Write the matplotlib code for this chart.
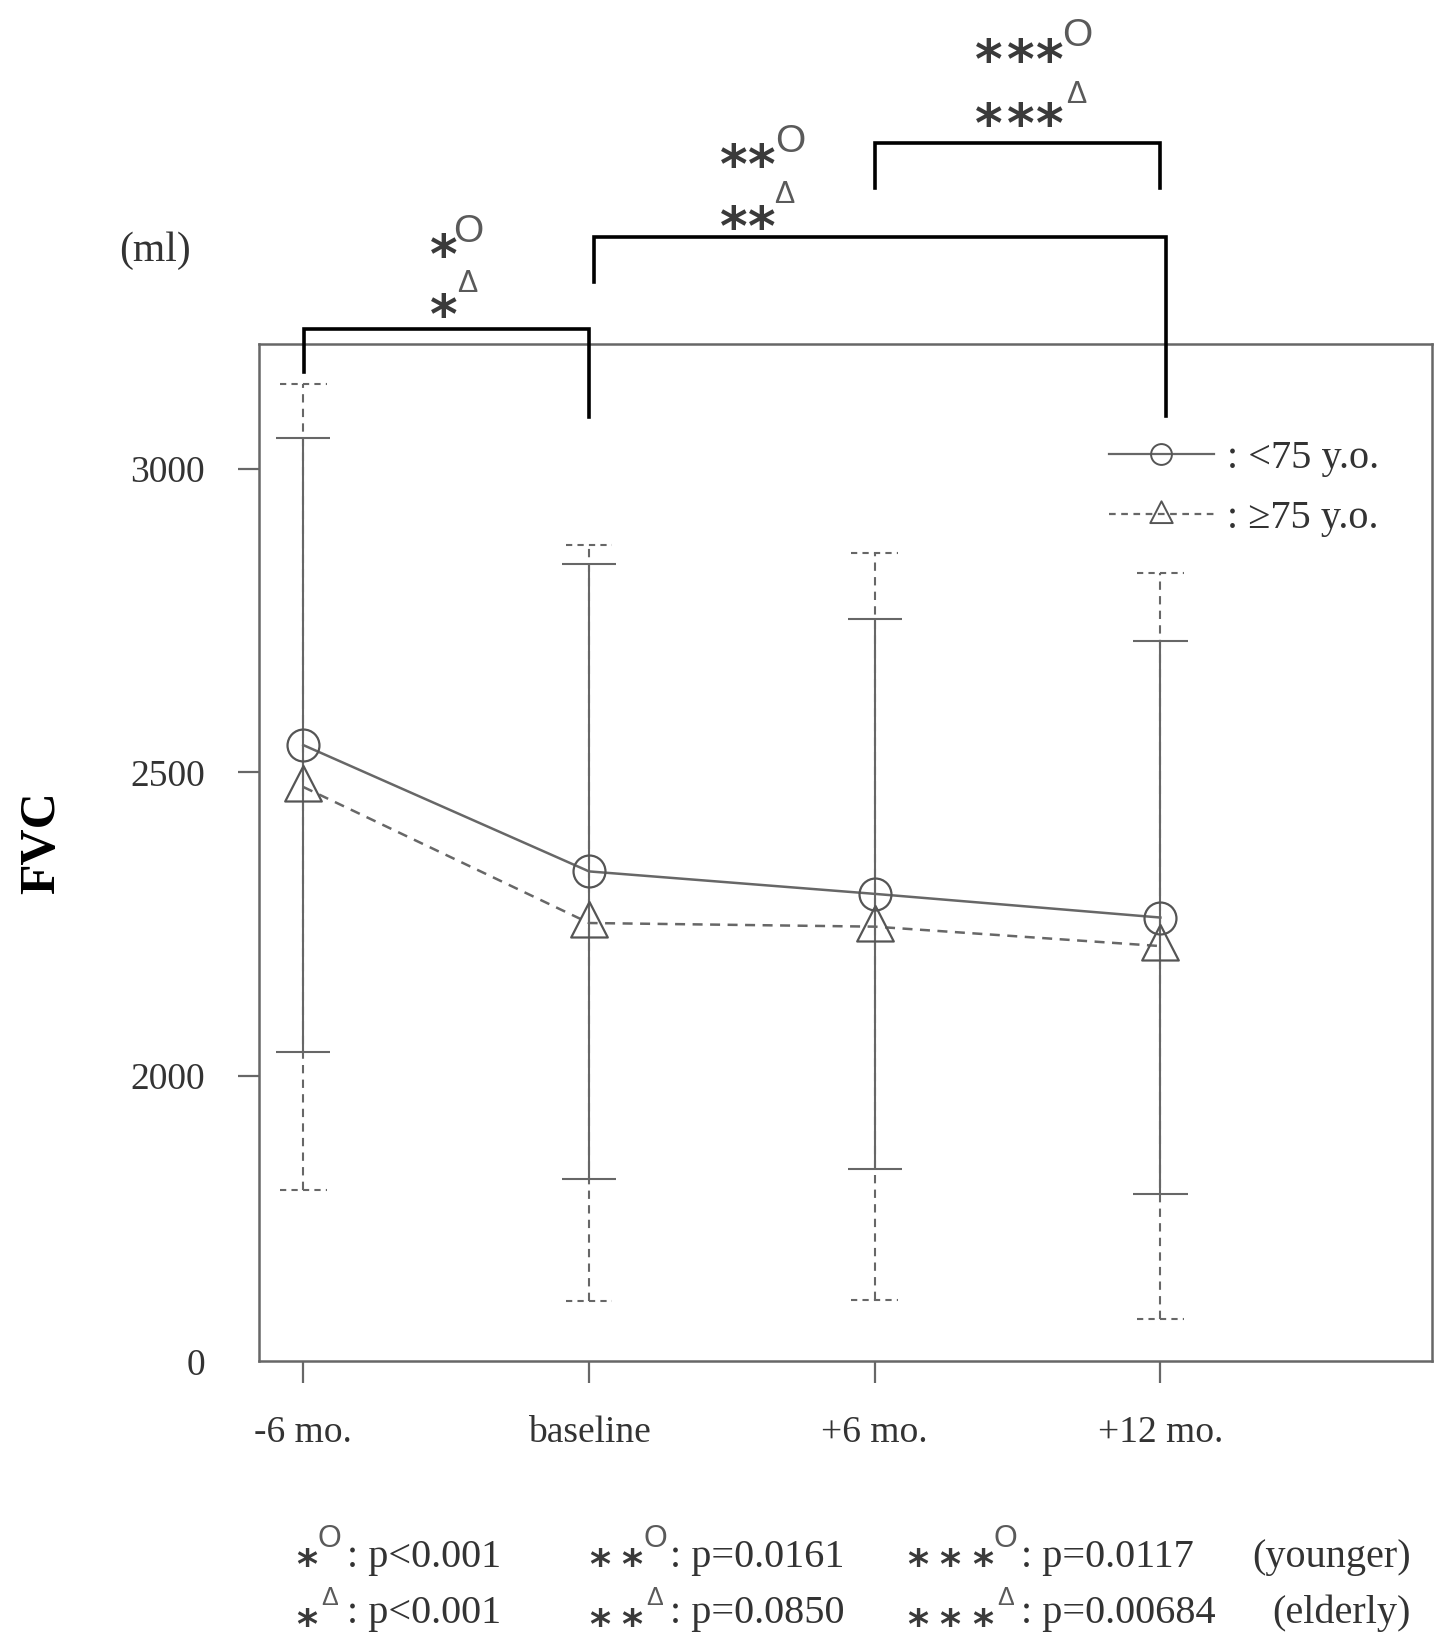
import matplotlib
matplotlib.use('Agg')
import matplotlib.pyplot as plt
from matplotlib.lines import Line2D
from matplotlib.path import Path
import numpy as np

# ---------------- data ----------------
categories = ['-6 mo.', 'baseline', '+6 mo.', '+12 mo.']
young_mean = [2545, 2337, 2300, 2261]   # <75 y.o.
young_sd = [506, 507, 453, 456]
old_mean = [2476, 2252, 2246, 2214]     # >=75 y.o.
old_sd = [664, 622, 615, 614]

ytick_values = [1530, 2000, 2500, 3000]   # broken axis: bottom labelled 0
ytick_labels = ['0', '2000', '2500', '3000']
legend_labels = [': <75 y.o.', ': \u226575 y.o.']

# significance brackets (category index from/to)
bracket_from = [0, 1, 2]
bracket_to = [1, 3, 3]
sig_stars = ['*', '**', '***']
p_young = [': p<0.001', ': p=0.0161', ': p=0.0117']
p_old = [': p<0.001', ': p=0.0850', ': p=0.00684']
group_names = ['(younger)', '(elderly)']

# ---------------- style ----------------
plt.rcParams['font.family'] = ['Liberation Serif', 'DejaVu Sans']
GRAY = '#676767'
TXT = '#333333'
W, H = 1377.0, 1568.0   # layout reference frame


def fx(x):
    return x / W


def fy(y):
    return 1 - y / H


fig = plt.figure(figsize=(14.5, 16.51), dpi=100)
AX_L, AX_R, AX_T, AX_B = 246, 1360, 327, 1293
ax = fig.add_axes([fx(AX_L), fy(AX_B), fx(AX_R) - fx(AX_L), fy(AX_T) - fy(AX_B)])

xs = np.arange(len(categories))
ym, ys_ = np.array(young_mean), np.array(young_sd)
om, os_ = np.array(old_mean), np.array(old_sd)
DASH = (0, (4, 3))

# elderly error bars (dashed)
ax.vlines(xs, om - os_, om + os_, colors=GRAY, linestyles=DASH, lw=1.5, zorder=2)
ax.hlines(om - os_, xs - 0.082, xs + 0.082, colors=GRAY, linestyles=(0, (3, 2.5)), lw=1.5, zorder=2)
ax.hlines(om + os_, xs - 0.082, xs + 0.082, colors=GRAY, linestyles=(0, (3, 2.5)), lw=1.5, zorder=2)
# younger error bars (solid)
ax.vlines(xs, ym - ys_, ym + ys_, colors=GRAY, lw=1.5, zorder=3)
ax.hlines(ym - ys_, xs - 0.095, xs + 0.095, colors=GRAY, lw=1.5, zorder=3)
ax.hlines(ym + ys_, xs - 0.095, xs + 0.095, colors=GRAY, lw=1.5, zorder=3)

tri = Path([(0, 1.0), (-0.85, -0.65), (0.85, -0.65), (0, 1.0)],
           [Path.MOVETO, Path.LINETO, Path.LINETO, Path.CLOSEPOLY])

ax.plot(xs, om, ls=DASH, color=GRAY, lw=1.8, marker=tri, ms=31,
        mfc='none', mec='#555555', mew=1.6, zorder=4)
ax.plot(xs, ym, ls='-', color=GRAY, lw=1.8, marker='o', ms=23,
        mfc='none', mec='#555555', mew=1.6, zorder=5)

ax.set_xlim(-0.155, 3.951)
ax.set_ylim(1530, 3205)
ax.set_xticks(xs, categories)
ax.set_yticks(ytick_values, ytick_labels)
ax.tick_params(axis='both', direction='out', color=GRAY, width=1.6,
               labelsize=27, labelcolor=TXT)
ax.tick_params(axis='x', length=16, pad=23)
ax.tick_params(axis='y', length=15, pad=24)
ax.yaxis.get_major_ticks()[0].tick1line.set_visible(False)
for sp in ax.spines.values():
    sp.set_color(GRAY)
    sp.set_linewidth(1.8)

# legend
h1 = Line2D([0], [0], color=GRAY, lw=1.6, marker='o', ms=15, mfc='none', mec='#555555', mew=1.4)
h2 = Line2D([0], [0], color=GRAY, lw=1.6, ls=(0, (3, 2.5)), marker=tri, ms=19, mfc='none',
            mec='#555555', mew=1.4)


def axfx(x):
    return (x - AX_L) / (AX_R - AX_L)


def axfy(y):
    return (AX_B - y) / (AX_B - AX_T)


leg = ax.legend([h1, h2], legend_labels, loc='center left',
                bbox_to_anchor=(axfx(1053), axfy(464)), frameon=False,
                borderpad=0, borderaxespad=0, handlelength=2.6, handletextpad=0.33,
                labelspacing=0.58, prop=dict(family='Liberation Serif', size=29))
for t in leg.get_texts():
    t.set_color(TXT)

# axis labels
fig.text(fx(40), fy(800), 'FVC', rotation=90, fontsize=36, fontweight='bold',
         ha='center', va='center', color='black')
fig.text(fx(147), fy(238), '(ml)', fontsize=30, ha='center', va='center', color=TXT)

# significance brackets (data x, heights above the plot)
bracket_dx0 = [0.004, 0.017, 0.001]
bracket_dx1 = [-0.001, 0.019, 0.0]
bracket_top = [3231, 3382, 3536]
bracket_left_end = [3160, 3307, 3462]
bracket_right_end = [3085, 3087, 3462]
for a, b, d0, d1, t, le, re in zip(bracket_from, bracket_to, bracket_dx0, bracket_dx1,
                                   bracket_top, bracket_left_end, bracket_right_end):
    ax.plot([a + d0, a + d0, b + d1, b + d1], [le, t, t, re], color='black',
            lw=2.6, clip_on=False, solid_joinstyle='miter', zorder=6)


def star_at(xc, yc, size, color='#3a3a3a'):
    em = size * 100 / 72 / 1.053
    fig.text(fx(xc), fy(yc + 0.22 * em), '*', fontsize=size, family='DejaVu Sans',
             weight='bold', ha='center', va='center', color=color)


def sym_at(xc, yc, s, size, color='#5a5a5a'):
    em = size * 100 / 72 / 1.053
    fig.text(fx(xc), fy(yc + 0.36 * em), s, fontsize=size,
             family=['Liberation Sans', 'DejaVu Sans'], ha='center', va='baseline', color=color)


# annotations above the brackets
top_star_x = [[421], [697, 723], [939, 969, 997]]
top_row_y = [(234, 291), (149, 207), (49, 110)]
top_o = [(445, 217), (750, 131), (1023, 30)]
top_d = [(444, 267), (745, 182), (1022, 87)]
for sx, (y1, y2), (ox, oy), (dx, dy) in zip(top_star_x, top_row_y, top_o, top_d):
    for x in sx:
        star_at(x, y1, 38)
        star_at(x, y2, 38)
    sym_at(ox, oy, 'O', 28)
    sym_at(dx, dy, '\u0394', 22)

# footnotes
foot_star_x = [[291], [570, 600], [872, 902, 933]]
foot_sym_x = [313, 622, 955]
foot_txt_x = [330, 636, 970]
for sx, symx, tx, py, po in zip(foot_star_x, foot_sym_x, foot_txt_x, p_young, p_old):
    for x in sx:
        star_at(x, 1480, 29)
        star_at(x, 1537, 29)
    sym_at(symx, 1459, 'O', 22)
    sym_at(symx, 1516, '\u0394', 18)
    fig.text(fx(tx), fy(1488), py, fontsize=29, ha='left', va='baseline', color=TXT)
    fig.text(fx(tx), fy(1541), po, fontsize=29, ha='left', va='baseline', color=TXT)
fig.text(fx(1340), fy(1488), group_names[0], fontsize=29, ha='right', va='baseline', color=TXT)
fig.text(fx(1340), fy(1541), group_names[1], fontsize=29, ha='right', va='baseline', color=TXT)

fig.savefig('out.png', dpi=100)
